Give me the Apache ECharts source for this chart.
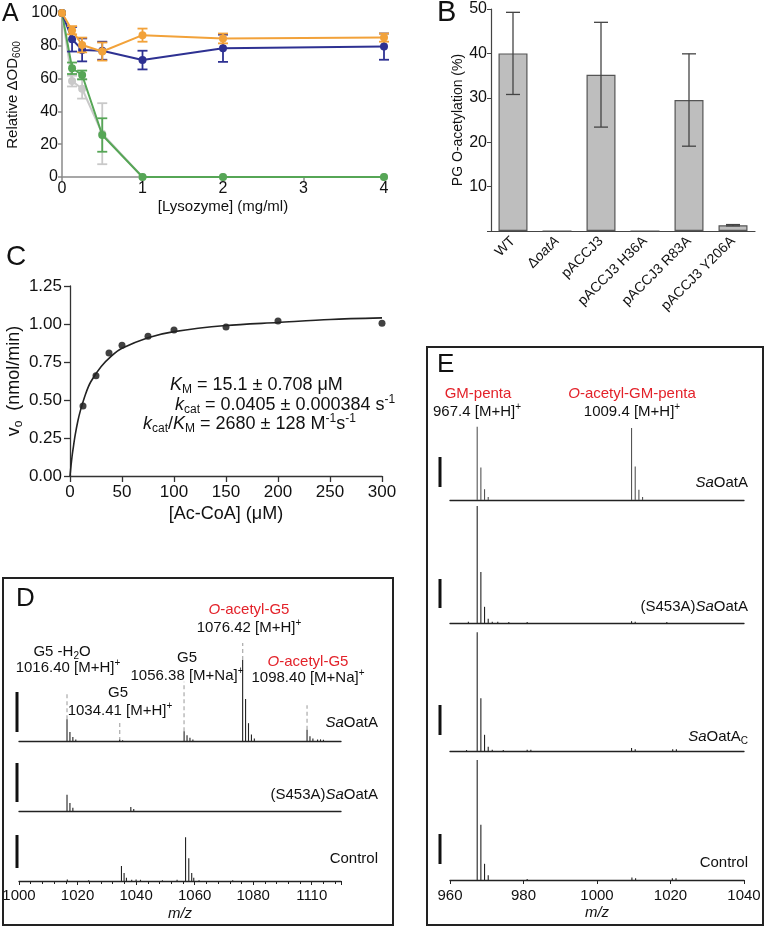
<!DOCTYPE html>
<html><head><meta charset="utf-8">
<script src="https://cdn.jsdelivr.net/npm/echarts@6/dist/echarts.min.js"></script>
<style>html,body{margin:0;padding:0;background:#fff}#c{width:765px;height:929px}</style>
</head><body><div id="c"></div>
<script>
// ---------- Panel A: relative ΔOD600 vs lysozyme ----------
const lysozyme = [0, 0.125, 0.25, 0.5, 1, 2, 4];
const aOrange = [100, 89.5, 80.5, 76.5, 86.5, 84.5, 85];
const aOrangeErr = [0, 2.5, 4.5, 5.5, 4, 3, 2.5];
const aBlue = [100, 84, 77.5, 77, 71.3, 78.5, 79.5];
const aBlueErr = [0, 7.5, 7, 5.5, 5.7, 8.3, 8];
const aGreen = [100, 66.3, 62.2, 25.6, 0, 0, 0];
const aGreenErr = [0, 3.5, 2.7, 10.2, 0, 0, 0];
const aGray = [100, 58.5, 53.8, 26.4, 0, 0, 0];
const aGrayErr = [0, 3.3, 6, 18.6, 0, 0, 0];

// ---------- Panel B: PG O-acetylation ----------
const bCategories = ['WT', 'ΔoatA', 'pACCJ3', 'pACCJ3 H36A', 'pACCJ3 R83A', 'pACCJ3 Y206A'];
const bValues = [40, 0, 35.2, 0, 29.5, 1.3];
const bErr = [9.25, 0, 11.8, 0, 10.4, 0.15];

// ---------- Panel C: kinetics ----------
const acCoA = [12.5, 25, 37.5, 50, 75, 100, 150, 200, 300];
const v0 = [0.46, 0.66, 0.81, 0.86, 0.92, 0.96, 0.98, 1.02, 1.005];
const fitX = [0, 1, 2, 3, 5, 7.5, 10, 15, 20, 30, 40, 50, 75, 100, 150, 200, 250, 300];
const fitY = [0, 0.07, 0.13, 0.18, 0.27, 0.36, 0.43, 0.54, 0.62, 0.72, 0.79, 0.84, 0.91, 0.95, 0.99, 1.01, 1.03, 1.04];

// ---------- Panel D: MS spectra (m/z, relative intensity) ----------
const dTickLabels = ['1000', '1020', '1040', '1060', '1080', '1110'];
const dSaOatA = [[1016.4,27],[1017.4,11],[1018.4,5],[1019.4,2],[1034.4,1.5],[1035.4,1],[1056.4,12],[1057.4,7],[1058.4,4],[1059.4,2],
  [1076.4,100],[1077.4,52],[1078.4,22],[1079.4,8],[1080.4,3],[1098.4,14],[1099.4,6],[1100.4,3],[1102,2],[1103,2],[1104,1.5]];
const dS453A = [[1016.4,20],[1017.4,10],[1018.4,4],[1038.2,5],[1039.2,2.5]];
const dControl = [[1016.5,2],[1023.8,1],[1035.0,18.5],[1035.9,10],[1036.7,4],[1038.5,1.5],[1040,2],[1041.5,1.5],[1049,1],[1054,1.5],
  [1056.9,54],[1058.0,28],[1059.0,10],[1059.7,4],[1061.5,1],[1073,1]];
const dGuides = [[1016.40,27,59],[1034.41,0,25],[1056.38,12,73],[1076.42,100,121],[1098.40,14,44]];

// ---------- Panel E: MS spectra ----------
const eTickLabels = ['960', '980', '1000', '1020', '1040'];
const eSaOatA = [[967.4,61],[968.4,27],[969.4,9],[970.4,2.5],[1009.4,60],[1010.4,28],[1011.4,8.5],[1012.4,2.5]];
const eS453A = [[965,1],[967.4,97.5],[968.4,42.5],[969.4,13.5],[970.4,3.5],[971.5,1],[973,1],[976,0.8],[981,0.8],[1009.4,1.5],[1010.4,1],[1019,0.8]];
const eSaOatAC = [[964.5,0.8],[967.4,99],[968.4,44],[969.4,13.5],[970.4,3.5],[971.5,1],[974.5,0.8],[981,1],[982,1],[1009.4,2.5],[1010.4,1.5],[1020.6,1.5],[1021.6,1.5]];
const eControl = [[967.4,100],[968.4,46],[969.4,13.5],[970.4,4],[981,0.8],[1009.5,2],[1010.5,1.5],[1020.5,1.5],[1021.5,1.5]];

// ================= build =================
const F = '"Liberation Sans", Arial, Helvetica, sans-serif';
const RED = '#E3222A';
const cOrange = '#F2A23A', cBlue = '#2E3192', cGreen = '#56A656', cGray = '#C9C9C9';

function errData(xs, vs, es) {
  const out = [];
  xs.forEach((x, i) => { if (es[i] > 0) out.push([x, vs[i] - es[i], vs[i] + es[i]]); });
  return out;
}
function errRender(color, capHalf, lw) {
  return function (params, api) {
    const x = api.value(0), lo = api.value(1), hi = api.value(2);
    const a = api.coord([x, lo]), b = api.coord([x, hi]);
    const st = { stroke: color, lineWidth: lw };
    return { type: 'group', children: [
      { type: 'line', shape: { x1: a[0], y1: a[1], x2: b[0], y2: b[1] }, style: st },
      { type: 'line', shape: { x1: a[0] - capHalf, y1: a[1], x2: a[0] + capHalf, y2: a[1] }, style: st },
      { type: 'line', shape: { x1: b[0] - capHalf, y1: b[1], x2: b[0] + capHalf, y2: b[1] }, style: st }
    ]};
  };
}
function stickRender(color, lw) {
  return function (params, api) {
    const x = api.value(0), h = api.value(1);
    const a = api.coord([x, 0]), b = api.coord([x, h]);
    return { type: 'line', shape: { x1: a[0], y1: a[1], x2: b[0], y2: b[1] }, style: { stroke: color, lineWidth: lw } };
  };
}
function guideRender(params, api) {
  const x = api.value(0), y0 = api.value(1), y1 = api.value(2);
  const a = api.coord([x, y0]), b = api.coord([x, y1]);
  return { type: 'line', shape: { x1: a[0], y1: a[1], x2: b[0], y2: b[1] }, style: { stroke: '#aaa', lineWidth: 1.2, lineDash: [4, 3] } };
}
function pairs(xs, ys) { return xs.map((x, i) => [x, ys[i]]); }
function tickLabelFrom(labels, min, step) {
  return v => { const k = Math.round((v - min) / step); return (Math.abs(v - min - k * step) < 1e-6 && labels[k]) ? labels[k] : ''; };
}

const richBase = (fs, col) => ({
  n: { fontSize: fs, fontFamily: F, fill: col, color: col, lineHeight: fs + 4 },
  i: { fontSize: fs, fontFamily: F, fill: col, color: col, fontStyle: 'italic', lineHeight: fs + 4 },
  r: { fontSize: fs, fontFamily: F, fill: RED, color: RED, lineHeight: fs + 4 },
  ri: { fontSize: fs, fontFamily: F, fill: RED, color: RED, fontStyle: 'italic', lineHeight: fs + 4 },
  sub: { fontSize: Math.round(fs * 0.65), fontFamily: F, fill: col, color: col, lineHeight: fs * 0.5, verticalAlign: 'bottom' },
  sup: { fontSize: Math.round(fs * 0.65), fontFamily: F, fill: col, color: col, lineHeight: fs * 0.5, verticalAlign: 'top' }
});
function txt(x, y, text, align, fs, col) {
  return { type: 'text', x: x, y: y, z: 100, silent: true,
    style: { text: text, align: align || 'center', verticalAlign: 'middle', fontSize: fs || 15, fontFamily: F,
      fill: col || '#111', rich: richBase(fs || 15, col || '#111') } };
}
function letter(x, y, t, fs) {
  return { type: 'text', x: x, y: y, z: 100, style: { text: t, align: 'left', verticalAlign: 'middle', fontSize: fs, fontFamily: F, fill: '#111' } };
}

const grids = [
  { left: 62, top: 13, width: 322, height: 164 },          // A
  { left: 491, top: 9, width: 264, height: 222 },          // B
  { left: 70, top: 286, width: 312, height: 190 },         // C
  { left: 19, top: 639.75, width: 322, height: 101.25 },   // D1
  { left: 19, top: 730, width: 322, height: 81 },          // D2
  { left: 19, top: 800, width: 322, height: 81 },          // D3
  { left: 450, top: 380, width: 294, height: 120 },        // E1
  { left: 450, top: 503, width: 294, height: 120 },        // E2
  { left: 450, top: 631, width: 294, height: 120 },        // E3
  { left: 450, top: 760, width: 294, height: 120 }         // E4
].map(g => Object.assign({ containLabel: false, outerBoundsMode: 'none', show: false }, g));

const noSplit = { show: false };
const specX = (gi, min, max, col) => ({ type: 'value', gridIndex: gi, min: min, max: max,
  axisLine: { show: true, lineStyle: { color: col || '#222', width: 1.3 } }, axisTick: { show: false }, axisLabel: { show: false }, splitLine: noSplit });
const hiddenY = (gi, max) => ({ type: 'value', gridIndex: gi, min: 0, max: max, show: false, splitLine: noSplit });

const xAxes = [
  { type: 'value', gridIndex: 0, min: 0, max: 4, interval: 1,
    axisLine: { lineStyle: { color: '#8a8a8a', width: 1.5 } }, axisTick: { length: 4, lineStyle: { color: '#8a8a8a', width: 1.5 } },
    axisLabel: { color: '#111', fontSize: 16, fontFamily: F, margin: 4 }, splitLine: noSplit,
    name: '[Lysozyme] (mg/ml)', nameLocation: 'middle', nameGap: 22, nameTextStyle: { color: '#111', fontSize: 15, fontFamily: F } },
  { type: 'category', gridIndex: 1, data: bCategories,
    axisLine: { lineStyle: { color: '#444', width: 1.2 } }, axisTick: { alignWithLabel: true, length: 5, lineStyle: { color: '#444' } },
    axisLabel: { rotate: 45, color: '#111', fontSize: 14, fontFamily: F, margin: 8, interval: 0,
      formatter: v => v === 'ΔoatA' ? '{n|Δ}{i|oatA}' : v,
      rich: { n: { fontSize: 14, fontFamily: F, color: '#111' }, i: { fontSize: 14, fontFamily: F, color: '#111', fontStyle: 'italic' } } },
    splitLine: noSplit },
  { type: 'value', gridIndex: 2, min: 0, max: 300, interval: 50,
    axisLine: { lineStyle: { color: '#333', width: 1.3 } }, axisTick: { length: 6, lineStyle: { color: '#333', width: 1.3 } },
    axisLabel: { color: '#111', fontSize: 17, fontFamily: F, margin: 8 }, splitLine: noSplit,
    name: '[Ac-CoA] (μM)', nameLocation: 'middle', nameGap: 29, nameTextStyle: { color: '#111', fontSize: 18, fontFamily: F } },
  specX(3, 1000, 1110),
  specX(4, 1000, 1110),
  { type: 'value', gridIndex: 5, min: 1000, max: 1110, interval: 20,
    axisLine: { lineStyle: { color: '#222', width: 1.3 } }, axisTick: { length: 4, lineStyle: { color: '#222' } },
    minorTick: { show: true, splitNumber: 5, length: 3, lineStyle: { color: '#222' } },
    axisLabel: { color: '#111', fontSize: 15, fontFamily: F, margin: 7, showMaxLabel: false,
      formatter: tickLabelFrom(dTickLabels, 1000, 20) },
    splitLine: noSplit, minorSplitLine: noSplit,
    name: 'm/z', nameLocation: 'middle', nameGap: 25, nameTextStyle: { color: '#111', fontSize: 15, fontFamily: F, fontStyle: 'italic' } },
  specX(6, 960, 1040),
  specX(7, 960, 1040),
  specX(8, 960, 1040),
  { type: 'value', gridIndex: 9, min: 960, max: 1040, interval: 20,
    axisLine: { lineStyle: { color: '#222', width: 1.3 } }, axisTick: { length: 4, lineStyle: { color: '#222' } },
    axisLabel: { color: '#111', fontSize: 15, fontFamily: F, margin: 8, formatter: tickLabelFrom(eTickLabels, 960, 20) }, splitLine: noSplit,
    name: 'm/z', nameLocation: 'middle', nameGap: 25, nameTextStyle: { color: '#111', fontSize: 15, fontFamily: F, fontStyle: 'italic' } }
];

const yAxes = [
  { type: 'value', gridIndex: 0, min: 0, max: 100, interval: 20,
    axisLine: { show: true, lineStyle: { color: '#8a8a8a', width: 1.5 } }, axisTick: { show: true, length: 4, lineStyle: { color: '#8a8a8a', width: 1.5 } },
    axisLabel: { color: '#111', fontSize: 16, fontFamily: F, margin: 4 }, splitLine: noSplit,
    name: '{n|Relative ΔOD}{s|600}', nameLocation: 'middle', nameGap: 40,
    nameTextStyle: { color: '#111', fontSize: 15, fontFamily: F,
      rich: { n: { fontSize: 15, fontFamily: F, color: '#111', lineHeight: 18 }, s: { fontSize: 10, fontFamily: F, color: '#111', lineHeight: 8, verticalAlign: 'bottom' } } } },
  { type: 'value', gridIndex: 1, min: 0, max: 50, interval: 10,
    axisLine: { show: true, lineStyle: { color: '#444', width: 1.2 } }, axisTick: { show: true, length: 4, lineStyle: { color: '#444' } },
    axisLabel: { color: '#111', fontSize: 16, fontFamily: F, margin: 4, formatter: v => v === 0 ? '' : String(v) }, splitLine: noSplit,
    name: 'PG O-acetylation (%)', nameLocation: 'middle', nameGap: 26, nameTextStyle: { color: '#111', fontSize: 14, fontFamily: F } },
  { type: 'value', gridIndex: 2, min: 0, max: 1.25, interval: 0.25,
    axisLine: { show: true, lineStyle: { color: '#333', width: 1.3 } }, axisTick: { show: true, length: 6, lineStyle: { color: '#333', width: 1.3 } },
    axisLabel: { color: '#111', fontSize: 17, fontFamily: F, margin: 8, formatter: v => v.toFixed(2) }, splitLine: noSplit,
    name: '{n|v}{s|o}{n|  (nmol/min)}', nameLocation: 'middle', nameGap: 45,
    nameTextStyle: { color: '#111', fontSize: 18, fontFamily: F,
      rich: { n: { fontSize: 18, fontFamily: F, color: '#111', lineHeight: 22 }, s: { fontSize: 12, fontFamily: F, color: '#111', lineHeight: 10, verticalAlign: 'bottom' } } } },
  hiddenY(3, 125), hiddenY(4, 100), hiddenY(5, 100),
  hiddenY(6, 100), hiddenY(7, 100), hiddenY(8, 100), hiddenY(9, 100)
];

function lineSeries(ys, color, z) {
  return { type: 'line', xAxisIndex: 0, yAxisIndex: 0, data: pairs(lysozyme, ys), z: z,
    symbol: 'circle', symbolSize: 8, showSymbol: true,
    lineStyle: { color: color, width: 2 }, itemStyle: { color: color } };
}
function errSeries(ys, es, color, z) {
  return { type: 'custom', xAxisIndex: 0, yAxisIndex: 0, z: z, renderItem: errRender(color, 5, 1.8),
    data: errData(lysozyme, ys, es), encode: { x: 0, y: [1, 2] } };
}
function stickSeries(gi, data, color, lw) {
  return { type: 'custom', xAxisIndex: gi, yAxisIndex: gi, renderItem: stickRender(color, lw || 1.1), data: data, encode: { x: 0, y: 1 }, z: 5 };
}

const series = [
  errSeries(aGray, aGrayErr, cGray, 2), lineSeries(aGray, cGray, 2),
  errSeries(aGreen, aGreenErr, cGreen, 3), lineSeries(aGreen, cGreen, 3),
  errSeries(aBlue, aBlueErr, cBlue, 4), lineSeries(aBlue, cBlue, 4),
  errSeries(aOrange, aOrangeErr, cOrange, 5), lineSeries(aOrange, cOrange, 5),
  { type: 'bar', xAxisIndex: 1, yAxisIndex: 1, data: bValues, barWidth: 29,
    itemStyle: { color: '#BEBEBE', borderColor: '#555', borderWidth: 1.2 } },
  { type: 'custom', xAxisIndex: 1, yAxisIndex: 1, z: 5, renderItem: errRender('#444', 7, 1.3),
    data: errData(bCategories.map((c, i) => i), bValues, bErr), encode: { x: 0, y: [1, 2] } },
  { type: 'line', xAxisIndex: 2, yAxisIndex: 2, data: pairs(fitX, fitY), smooth: 0.3, showSymbol: false,
    lineStyle: { color: '#222', width: 1.6 } },
  { type: 'scatter', xAxisIndex: 2, yAxisIndex: 2, data: pairs(acCoA, v0), symbolSize: 7, itemStyle: { color: '#111' } },
  { type: 'custom', xAxisIndex: 3, yAxisIndex: 3, renderItem: guideRender, data: dGuides, encode: { x: 0, y: [1, 2] }, z: 3 },
  stickSeries(3, dSaOatA, '#222', 1.1),
  stickSeries(4, dS453A, '#222', 1.1),
  stickSeries(5, dControl, '#222', 1.1),
  stickSeries(6, eSaOatA, '#555', 1.1),
  stickSeries(7, eS453A, '#222', 1.1),
  stickSeries(8, eSaOatAC, '#222', 1.1),
  stickSeries(9, eControl, '#222', 1.1)
];

const scaleBar = (x, y1, y2) => ({ type: 'rect', shape: { x: x, y: y1, width: 3, height: y2 - y1 }, style: { fill: '#111' }, z: 50 });

const graphic = [
  letter(2, 14, 'A', 25), letter(437, 13, 'B', 29), letter(6, 257, 'C', 28), letter(16, 599, 'D', 26), letter(437, 365, 'E', 26),
  // C annotations
  txt(170, 385, '{i|K}{sub|M}{n| = 15.1 ± 0.708 μM}', 'left', 18),
  txt(175, 405, '{i|k}{sub|cat}{n| = 0.0405 ± 0.000384 s}{sup|-1}', 'left', 18),
  txt(143, 424, '{i|k}{sub|cat}{n|/}{i|K}{sub|M}{n| = 2680 ± 128 M}{sup|-1}{n|s}{sup|-1}', 'left', 18),
  // D box and labels
  { type: 'rect', shape: { x: 3, y: 578, width: 390, height: 347 }, style: { fill: 'none', stroke: '#222', lineWidth: 2 }, z: 1 },
  txt(62, 652, '{n|G5 -H}{sub|2}{n|O}'),
  txt(68, 668, '{n|1016.40 [M+H]}{sup|+}'),
  txt(118, 693, '{n|G5}'),
  txt(120, 711, '{n|1034.41 [M+H]}{sup|+}'),
  txt(187, 658, '{n|G5}'),
  txt(187, 676, '{n|1056.38 [M+Na]}{sup|+}'),
  txt(249, 610, '{ri|O}{r|-acetyl-G5}'),
  txt(249, 628, '{n|1076.42 [M+H]}{sup|+}'),
  txt(308, 662, '{ri|O}{r|-acetyl-G5}'),
  txt(308, 678, '{n|1098.40 [M+Na]}{sup|+}'),
  txt(378, 723, '{i|Sa}{n|OatA}', 'right'),
  txt(378, 795, '{n|(S453A)}{i|Sa}{n|OatA}', 'right'),
  txt(378, 859, '{n|Control}', 'right'),
  scaleBar(15.5, 692, 732), scaleBar(15.5, 763, 802), scaleBar(15.5, 835, 868),
  // E box and labels
  { type: 'rect', shape: { x: 427, y: 347, width: 336, height: 578 }, style: { fill: 'none', stroke: '#222', lineWidth: 2 }, z: 1 },
  txt(478, 394, '{r|GM-penta}'),
  txt(477, 412, '{n|967.4 [M+H]}{sup|+}'),
  txt(632, 394, '{ri|O}{r|-acetyl-GM-penta}'),
  txt(632, 412, '{n|1009.4 [M+H]}{sup|+}'),
  txt(748, 483, '{i|Sa}{n|OatA}', 'right'),
  txt(748, 607, '{n|(S453A)}{i|Sa}{n|OatA}', 'right'),
  txt(748, 737, '{i|Sa}{n|OatA}{sub|C}', 'right'),
  txt(748, 863, '{n|Control}', 'right'),
  scaleBar(438.5, 457, 487), scaleBar(438.5, 579, 608), scaleBar(438.5, 705, 735), scaleBar(438.5, 834, 864)
];

const chart = echarts.init(document.getElementById('c'), null, { renderer: 'canvas' });
chart.setOption({
  backgroundColor: '#fff', animation: false,
  textStyle: { fontFamily: F },
  grid: grids, xAxis: xAxes, yAxis: yAxes, series: series, graphic: graphic
});
</script>
</body></html>
